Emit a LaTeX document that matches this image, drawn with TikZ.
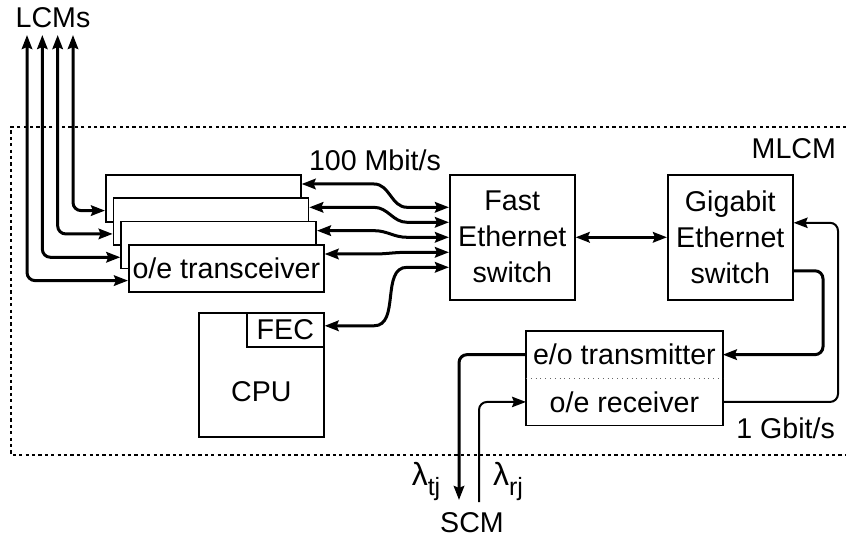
\documentclass[tikz,border=0pt]{standalone}
\usepackage{fontspec}
\setmainfont{Liberation Sans}
\usepackage{tikz}
\usetikzlibrary{positioning,arrows.meta,calc}
\newcommand{\lamsub}[1]{{\fontsize{16}{16}\selectfont λ}\raisebox{-5pt}{\fontsize{12.5}{12.5}\selectfont #1}}
\tikzset{
  >={Stealth[length=7pt,width=5.2pt,inset=1pt]},
  blk/.style={draw,line width=0.8pt,fill=white,inner sep=0pt,anchor=north west},
  trxbox/.style={blk,minimum width=97.5pt,minimum height=23.5pt},
  swbox/.style={blk,minimum width=62.5pt,minimum height=62.5pt,align=center},
  half/.style={inner sep=0pt,minimum width=98pt,minimum height=23.25pt},
  boxline/.style={line width=0.8pt},
  divider/.style={dotted,line width=0.4pt,black!60},
  frame/.style={line width=0.75pt,dash pattern=on 1.6pt off 1.6pt},
  lcm/.style={<->,line width=1.5pt,rounded corners=4pt},
  link/.style={<->,line width=1.5pt},
  tx/.style={->,line width=1.5pt,rounded corners=4pt},
  rx/.style={->,line width=1pt,rounded corners=4pt},
}
\begin{document}
\begin{tikzpicture}[x=0.5pt,y=-0.5pt,every node/.style={font=\fontsize{14.3}{18}\selectfont}]
  \useasboundingbox (0,0) rectangle (846,539);
  % --- MLCM frame, open to the right ---
  \draw[frame] (846,127) -- (11,127) -- (11,455) -- (846,455);
  \node[anchor=east] (mlcm) at (843,149) {MLCM};
  % --- o/e transceiver stack ---
  \foreach \i in {1,2,3}
    \node[trxbox] (trx\i) at ({105+7.67*(\i-1)},{174+23.33*(\i-1)}) {};
  \node[trxbox] (trx4) at (128,244) {o/e transceiver};
  % --- links to the LCMs ---
  \node (lcms) at (53,18) {LCMs};
  \foreach \i in {1,...,4} {
    \coordinate (up\i) at ({73-15.33*(\i-1)},35);
    \draw[lcm] (up\i) |- ([yshift=6pt]trx\i.south west);
  }
  % --- switches ---
  \node[swbox] (fes) at (449,174) {Fast\\Ethernet\\switch};
  \node[swbox] (ges) at (667,174) {Gigabit\\Ethernet\\switch};
  \draw[link] (fes) -- (ges);
  % --- CPU with FEC ---
  \node[blk,minimum width=62.5pt,minimum height=62pt] (cpu) at (198,312) {};
  \node[blk,minimum width=38.5pt,minimum height=17pt] (fec) at (246,312) {FEC};
  \node (cpulbl) at ([yshift=-8.5pt]cpu.center) {CPU};
  % --- 100 Mbit/s links into the fast switch ---
  \node (mbit) at (375,160) {100 Mbit/s};
  \coordinate (bendL) at (374,0);
  \coordinate (bendR) at (407,0);
  \foreach \i/\dy in {1/15,2/7.5,3/0,4/-7.5} {
    \coordinate (t\i) at ([yshift=-5pt]trx\i.north east);
    \coordinate (s\i) at ([yshift=\dy pt]fes.west);
    \draw[link] (t\i) -- (t\i -| bendL) to[out=0,in=180] (s\i -| bendR) -- (s\i);
  }
  \coordinate (t5) at ([yshift=2pt]fec.east);
  \coordinate (s5) at ([yshift=-15pt]fes.west);
  \draw[link] (t5) -- (t5 -| bendL) to[out=0,in=180] (s5 -| bendR) -- (s5);
  % --- optical transmitter / receiver ---
  \node[half,anchor=north west] (eot) at (526,331) {e/o transmitter};
  \node[half,below=0pt of eot] (oer) {o/e receiver};
  \draw[boxline] (eot.north west) rectangle (oer.south east);
  \draw[divider] (eot.south west) -- (eot.south east);
  % 1 Gbit/s loop to the gigabit switch
  \coordinate (txturn) at (823,0);
  \coordinate (rxturn) at (838,0);
  \coordinate (g1) at ([yshift=-16.75pt]ges.east);
  \coordinate (g2) at ([yshift=7.25pt]ges.east);
  \draw[tx] (g1) -| (txturn |- eot.east) -- (eot.east);
  \draw[rx] (oer.east) -| (rxturn |- g2) -- (g2);
  \node[anchor=east] (gbit) at (842,428) {1 Gbit/s};
  % wavelengths to the SCM
  \coordinate (scmT) at (459,500);
  \coordinate (scmR) at (479,502);
  \draw[tx] (eot.west) -| (scmT);
  \draw[rx] (scmR) |- (oer.west);
  \node (lamt) at (426,482) {\lamsub{tj}};
  \node (lamr) at (508,482) {\lamsub{rj}};
  \node (scm) at (472,523) {SCM};
\end{tikzpicture}
\end{document}
